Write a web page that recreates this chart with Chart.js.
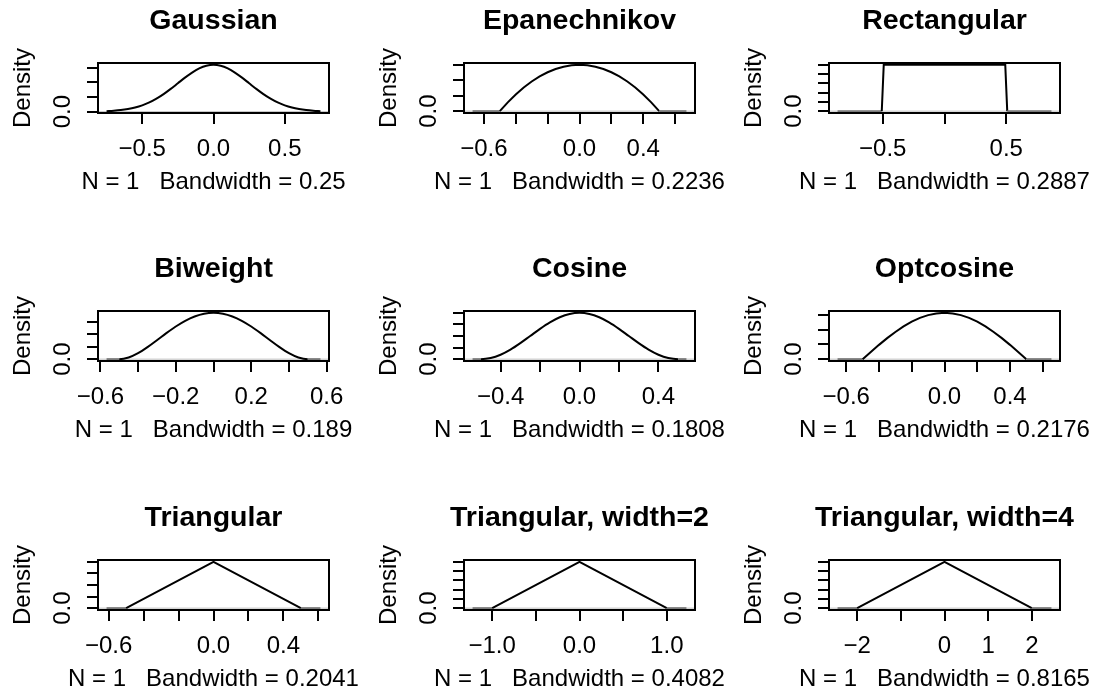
<!DOCTYPE html>
<html><head><meta charset="utf-8">
<script src="https://cdn.jsdelivr.net/npm/chart.js@4"></script>
<style>
html,body{margin:0;padding:0;background:#fff;overflow:hidden;width:1104px;height:699px;}
canvas{position:absolute;}
</style></head><body>
<script>
// ---------- data ----------
const panelTitles = ['Gaussian','Epanechnikov','Rectangular','Biweight','Cosine','Optcosine','Triangular','Triangular, width=2','Triangular, width=4'];
const bandwidths = ['0.25','0.2236','0.2887','0.189','0.1808','0.2176','0.2041','0.4082','0.8165'];
const sampleSize = 1;

const gaussX = [-0.75,-0.7,-0.65,-0.6,-0.55,-0.5,-0.45,-0.4,-0.35,-0.3,-0.25,-0.2,-0.15,-0.1,-0.05,0,0.05,0.1,0.15,0.2,0.25,0.3,0.35,0.4,0.45,0.5,0.55,0.6,0.65,0.7,0.75];
const gaussY = [0.018,0.032,0.054,0.090,0.142,0.216,0.316,0.444,0.599,0.777,0.968,1.159,1.333,1.473,1.564,1.596,1.564,1.473,1.333,1.159,0.968,0.777,0.599,0.444,0.316,0.216,0.142,0.090,0.054,0.032,0.018];

const epaX = [-0.671,-0.5,-0.45,-0.4,-0.35,-0.3,-0.25,-0.2,-0.15,-0.1,-0.05,0,0.05,0.1,0.15,0.2,0.25,0.3,0.35,0.4,0.45,0.5,0.671];
const epaY = [0,0,0.285,0.54,0.765,0.96,1.125,1.26,1.365,1.44,1.485,1.5,1.485,1.44,1.365,1.26,1.125,0.96,0.765,0.54,0.285,0,0];

const rectX = [-0.866,-0.508,-0.492,0.492,0.508,0.866];
const rectY = [0,0,1,1,0,0];

const biwX = [-0.567,-0.5,-0.45,-0.4,-0.35,-0.3,-0.25,-0.2,-0.15,-0.1,-0.05,0,0.05,0.1,0.15,0.2,0.25,0.3,0.35,0.4,0.45,0.5,0.567];
const biwY = [0,0,0.068,0.243,0.488,0.768,1.055,1.323,1.553,1.728,1.838,1.875,1.838,1.728,1.553,1.323,1.055,0.768,0.488,0.243,0.068,0,0];

const cosX = [-0.542,-0.5,-0.45,-0.4,-0.35,-0.3,-0.25,-0.2,-0.15,-0.1,-0.05,0,0.05,0.1,0.15,0.2,0.25,0.3,0.35,0.4,0.45,0.5,0.542];
const cosY = [0,0,0.049,0.191,0.412,0.691,1.0,1.309,1.588,1.809,1.951,2.0,1.951,1.809,1.588,1.309,1.0,0.691,0.412,0.191,0.049,0,0];

const optX = [-0.653,-0.5,-0.45,-0.4,-0.35,-0.3,-0.25,-0.2,-0.15,-0.1,-0.05,0,0.05,0.1,0.15,0.2,0.25,0.3,0.35,0.4,0.45,0.5,0.653];
const optY = [0,0,0.246,0.485,0.713,0.923,1.111,1.271,1.4,1.494,1.551,1.571,1.551,1.494,1.4,1.271,1.111,0.923,0.713,0.485,0.246,0,0];

const triX = [-0.612,-0.5,0,0.5,0.612];
const triY = [0,0,2,0,0];
const tri2X = [-1.225,-1,0,1,1.225];
const tri2Y = [0,0,1,0,0];
const tri4X = [-2.449,-2,0,2,2.449];
const tri4Y = [0,0,0.5,0,0];

const ticksHalf = [-0.5,0,0.5];
const ticksTenth = [-0.6,-0.4,-0.2,0,0.2,0.4,0.6];
const ticksCos = [-0.4,-0.2,0,0.2,0.4];
const ticksTri2 = [-1,-0.5,0,0.5,1];
const ticksTri4 = [-2,-1,0,1,2];

const gaussXLabels = ['\u22120.5','0.0','0.5'];
const epaXLabels = ['\u22120.6','','','0.0','','0.4',''];
const rectXLabels = ['\u22120.5','','0.5'];
const biwXLabels = ['\u22120.6','','\u22120.2','','0.2','','0.6'];
const cosXLabels = ['\u22120.4','','0.0','','0.4'];
const optXLabels = ['\u22120.6','','','0.0','','0.4',''];
const triXLabels = ['\u22120.6','','','0.0','','0.4',''];
const tri2XLabels = ['\u22121.0','','0.0','','1.0'];
const tri4XLabels = ['\u22122','','0','1','2'];

const yTicksHalf = [0,0.5,1,1.5];
const yTicksTwo = [0,0.5,1,1.5,2];
const yTicksFifth = [0,0.2,0.4,0.6,0.8,1];
const yTicksTenth = [0,0.1,0.2,0.3,0.4,0.5];
const yZeroLabel = '0.0';

const panels = [
  {x: gaussX, y: gaussY, smooth: true,  xt: ticksHalf,  xl: gaussXLabels, yt: yTicksHalf},
  {x: epaX,   y: epaY,   smooth: false, xt: ticksTenth, xl: epaXLabels,   yt: yTicksHalf},
  {x: rectX,  y: rectY,  smooth: false, xt: ticksHalf,  xl: rectXLabels,  yt: yTicksFifth},
  {x: biwX,   y: biwY,   smooth: true,  xt: ticksTenth, xl: biwXLabels,   yt: yTicksHalf},
  {x: cosX,   y: cosY,   smooth: true,  xt: ticksCos,   xl: cosXLabels,   yt: yTicksTwo},
  {x: optX,   y: optY,   smooth: false, xt: ticksTenth, xl: optXLabels,   yt: yTicksHalf},
  {x: triX,   y: triY,   smooth: false, xt: ticksTenth, xl: triXLabels,   yt: yTicksTwo},
  {x: tri2X,  y: tri2Y,  smooth: false, xt: ticksTri2,  xl: tri2XLabels,  yt: yTicksFifth},
  {x: tri4X,  y: tri4Y,  smooth: false, xt: ticksTri4,  xl: tri4XLabels,  yt: yTicksTenth}
];

// ---------- layout / style ----------
const FONT = '"Liberation Sans", Arial, Helvetica, sans-serif';
Chart.defaults.font.family = FONT;
Chart.defaults.color = '#000';
const colLeft = [98, 464, 829];
const rowTop = [63, 311, 560];
const BOX_W = 231, BOX_H = 50, Y_AXIS_W = 98, TITLE_H = 63, X_AXIS_H = 50, SUB_H = 40;
const TICK_LEN = 11;

const boxPlugin = {
  id: 'rbox',
  beforeDatasetsDraw(chart) {
    const {ctx, chartArea: a, scales: {y}} = chart;
    const y0 = y.getPixelForValue(0);
    ctx.save();
    ctx.strokeStyle = '#BEBEBE';
    ctx.lineWidth = 1;
    ctx.beginPath(); ctx.moveTo(a.left, y0); ctx.lineTo(a.right, y0); ctx.stroke();
    ctx.restore();
  },
  afterDraw(chart) {
    const {ctx, chartArea: a} = chart;
    ctx.save();
    ctx.strokeStyle = '#000';
    ctx.lineWidth = 2;
    ctx.strokeRect(a.left, a.top, a.right - a.left, a.bottom - a.top);
    ctx.restore();
  }
};

panels.forEach((p, i) => {
  const c = document.createElement('canvas');
  const w = Y_AXIS_W + BOX_W + Y_AXIS_W, h = TITLE_H + BOX_H + X_AXIS_H + SUB_H;
  c.width = w; c.height = h;
  c.style.width = w + 'px'; c.style.height = h + 'px';
  c.style.left = (colLeft[i % 3] - Y_AXIS_W) + 'px';
  c.style.top = (rowTop[Math.floor(i / 3)] - TITLE_H) + 'px';
  document.body.appendChild(c);

  const xmin = Math.min(...p.x), xmax = Math.max(...p.x), xr = xmax - xmin;
  const ymin = Math.min(...p.y), ymax = Math.max(...p.y), yr = ymax - ymin;

  new Chart(c, {
    type: 'line',
    data: {
      datasets: [{
        data: p.x.map((v, k) => ({x: v, y: p.y[k]})),
        borderColor: '#000', borderWidth: 2, pointRadius: 0, fill: false,
        tension: 0, cubicInterpolationMode: p.smooth ? 'monotone' : 'default',
        segment: { borderColor: ctx => (ctx.p0.parsed.y === 0 && ctx.p1.parsed.y === 0) ? '#7a7a7a' : '#000' }
      }]
    },
    options: {
      responsive: false, animation: false, devicePixelRatio: 1,
      events: [],
      layout: { padding: 0 },
      plugins: {
        legend: { display: false }, tooltip: { enabled: false },
        title: {
          display: true, text: panelTitles[i], fullSize: true, color: '#000',
          font: { size: 28.5, weight: 'bold', family: FONT, lineHeight: 1.2 },
          padding: { top: 4, bottom: TITLE_H - 4 - 34.2 }
        },
        subtitle: {
          display: true, position: 'bottom', fullSize: true, color: '#000',
          text: 'N = ' + sampleSize + '   Bandwidth = ' + bandwidths[i],
          font: { size: 24, family: FONT, lineHeight: 1.2 },
          padding: { top: 5.2, bottom: SUB_H - 5.2 - 28.8 }
        }
      },
      scales: {
        x: {
          type: 'linear', min: xmin - 0.04 * xr, max: xmax + 0.04 * xr,
          afterBuildTicks: s => { s.ticks = p.xt.map(v => ({value: v})); },
          afterFit: s => { s.height = X_AXIS_H; s.paddingLeft = 0; s.paddingRight = 0; },
          grid: { drawOnChartArea: false, drawTicks: true, tickLength: TICK_LEN, color: '#000', lineWidth: 2 },
          border: { display: false },
          ticks: { autoSkip: false, maxRotation: 0, minRotation: 0, padding: 11, color: '#000',
                   font: { size: 24, family: FONT }, callback: (v, k) => p.xl[k] }
        },
        y: {
          type: 'linear', position: 'left', min: ymin - 0.04 * yr, max: ymax + 0.04 * yr,
          afterBuildTicks: s => { s.ticks = p.yt.map(v => ({value: v})); },
          afterFit: s => { s.width = Y_AXIS_W; s.paddingTop = 0; s.paddingBottom = 0; },
          grid: { drawOnChartArea: false, drawTicks: true, tickLength: TICK_LEN, color: '#000', lineWidth: 2 },
          border: { display: false },
          ticks: { autoSkip: false, minRotation: 90, maxRotation: 90, crossAlign: 'center', padding: 7, color: '#000',
                   font: { size: 24, family: FONT }, callback: (v, k) => (k === 0 ? yZeroLabel : '') },
          title: { display: true, text: 'Density', color: '#000',
                   font: { size: 24, family: FONT, lineHeight: 1.2 }, padding: { top: 8.6, bottom: 0 } }
        },
        yRight: {
          type: 'linear', position: 'right', min: 0, max: 1,
          afterFit: s => { s.width = Y_AXIS_W; s.paddingTop = 0; s.paddingBottom = 0; },
          grid: { display: false, drawOnChartArea: false, drawTicks: false },
          border: { display: false },
          ticks: { display: false }
        }
      }
    },
    plugins: [boxPlugin]
  });
});
</script>
</body></html>
